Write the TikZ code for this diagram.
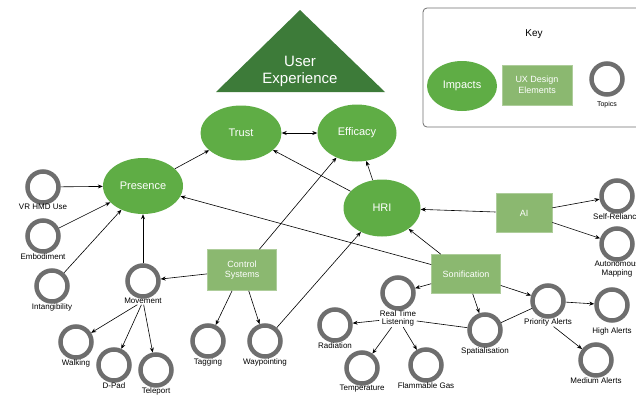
\documentclass[tikz,border=0pt]{standalone}
\usepackage{fontspec}
\setmainfont{Liberation Sans}
\usetikzlibrary{shapes.geometric,arrows.meta}

\definecolor{impactgreen}{HTML}{5FAD45}
\definecolor{uxgreen}{HTML}{8BB870}
\definecolor{uxdark}{HTML}{3D7B39}
\definecolor{ringgray}{HTML}{6E6E6E}

\tikzset{
  impact/.style={ellipse,fill=impactgreen,text=white,inner sep=0pt,
    font=\fontsize{11}{13}\selectfont},
  uxbox/.style={rectangle,fill=uxgreen,draw=uxgreen!70!white,line width=0.6pt,
    text=white,align=center,inner sep=0pt,font=\fontsize{9}{10.5}\selectfont},
  topic/.style={circle,draw=ringgray,line width=4.5pt,minimum size=31pt,inner sep=0pt},
  topiclbl/.style={anchor=north,align=center,inner sep=0.5pt,
    font=\fontsize{8}{8.6}\selectfont},
  link/.style={line width=0.6pt},
}

% topic: ring with its text below
\newcommand{\topicnode}[4][0pt]{%
  \node[topic] (#2) at (#3) {};
  \node[topiclbl] (#2-l) at ([yshift=1pt-#1]#2.south) {#4};}

\begin{document}
\begin{tikzpicture}[x=1pt,y=-1pt,>={Stealth[length=5pt,width=4pt]}]
  \useasboundingbox (0,0) rectangle (636,394);

  % Key
  \draw[ringgray,line width=0.8pt,rounded corners=4pt] (423,8) rectangle (680,127);
  \node[font=\fontsize{10}{12}\selectfont] (keytitle) at (534,34) {Key};
  \node[impact,minimum width=70pt,minimum height=50pt] (keyimpact) at (462,86) {Impacts};
  \node[uxbox,minimum width=70pt,minimum height=40pt] (keyux) at (537,85) {UX Design\\Elements};
  \node[topic] (keytopic) at (607,79) {};
  \node[font=\fontsize{7}{8}\selectfont] (keytopic-l) at (607,105) {Topics};

  % User experience
  \fill[uxdark] (300,10) -- (385,92) -- (216,92) -- cycle;
  \node[text=white,align=center,font=\fontsize{15}{17}\selectfont] (ux) at (300,71) {User\\Experience};

  % Impacts
  \node[impact,minimum width=81pt,minimum height=55pt] (trust) at (241,133) {Trust};
  \node[impact,minimum width=79pt,minimum height=57pt] (efficacy) at (357,133) {Efficacy};
  \node[impact,minimum width=80pt,minimum height=56pt] (presence) at (143,186) {Presence};
  \node[impact,minimum width=77pt,minimum height=57pt] (hri) at (382,208) {HRI};

  % UX design elements
  \node[uxbox,minimum width=69pt,minimum height=41pt] (control) at (242,270) {Control\\Systems};
  \node[uxbox,minimum width=56pt,minimum height=39pt] (ai) at (524,213) {AI};
  \node[uxbox,minimum width=69pt,minimum height=39pt] (sonif) at (466,274) {Sonification};

  % Topics
  \topicnode{vrhmd}{43,187}{VR HMD Use}
  \topicnode{embod}{43,236}{Embodiment}
  \topicnode{intang}{52,286}{Intangibility}
  \topicnode{movement}{143,281}{Movement}
  \topicnode{walking}{76,342}{Walking}
  \topicnode{dpad}{114,365}{D-Pad}
  \topicnode{teleport}{156,370}{Teleport}
  \topicnode{tagging}{208,341}{Tagging}
  \topicnode{waypoint}{265,341}{Waypointing}
  \topicnode{realtime}{398,293}{Real Time\\Listening}
  \topicnode{radiation}{335,325}{Radiation}
  \topicnode{temp}{362,368}{Temperature}
  \topicnode{flammable}{426,365}{Flammable Gas}
  \topicnode{spatial}{485,330}{Spatialisation}
  \topicnode{priority}{548,301}{Priority Alerts}
  \topicnode[5pt]{high}{612,305}{High Alerts}
  \topicnode{medium}{596,360}{Medium Alerts}
  \topicnode{selfrel}{617,196}{Self-Reliance}
  \topicnode{automap}{617,244}{Autonomous\\Mapping}

  % Links into impacts
  \draw[link,->] (vrhmd) -- (presence);
  \draw[link,->] (embod) -- (presence);
  \draw[link,->] (intang) -- (presence);
  \draw[link,->] (movement) -- (presence);
  \draw[link,->] (presence) -- (trust);
  \draw[link,<->] (trust) -- (efficacy);
  \draw[link,->] (hri) -- (trust);
  \draw[link,->] (hri) -- (efficacy);
  \draw[link,->] (control) -- (efficacy);
  \draw[link,->] (sonif) -- (presence);
  \draw[link,->] (sonif) -- (hri);
  \draw[link,->] (ai) -- (hri);
  \draw[link,->] (waypoint) -- (hri);

  % Links into topics
  \draw[link,->] (control) -- (movement);
  \draw[link,->] (control) -- (tagging);
  \draw[link,->] (control) -- (waypoint);
  \draw[link,->] (movement-l) -- (walking);
  \draw[link,->] (movement-l) -- (dpad);
  \draw[link,->] (movement-l) -- (teleport);
  \draw[link,->] (ai) -- (selfrel);
  \draw[link,->] (ai) -- (automap);
  \draw[link,->] (sonif) -- (realtime);
  \draw[link,->] (sonif) -- (spatial);
  \draw[link,->] (sonif) -- (priority);
  \draw[link,->] (realtime-l) -- (radiation);
  \draw[link,->] (realtime-l) -- (temp);
  \draw[link,->] (realtime-l) -- (flammable);
  \draw[link] (realtime-l) -- (spatial);
  \draw[link] (spatial) -- (priority);
  \draw[link,->] (priority) -- (high);
  \draw[link,->] (priority-l) -- (medium);
\end{tikzpicture}
\end{document}
